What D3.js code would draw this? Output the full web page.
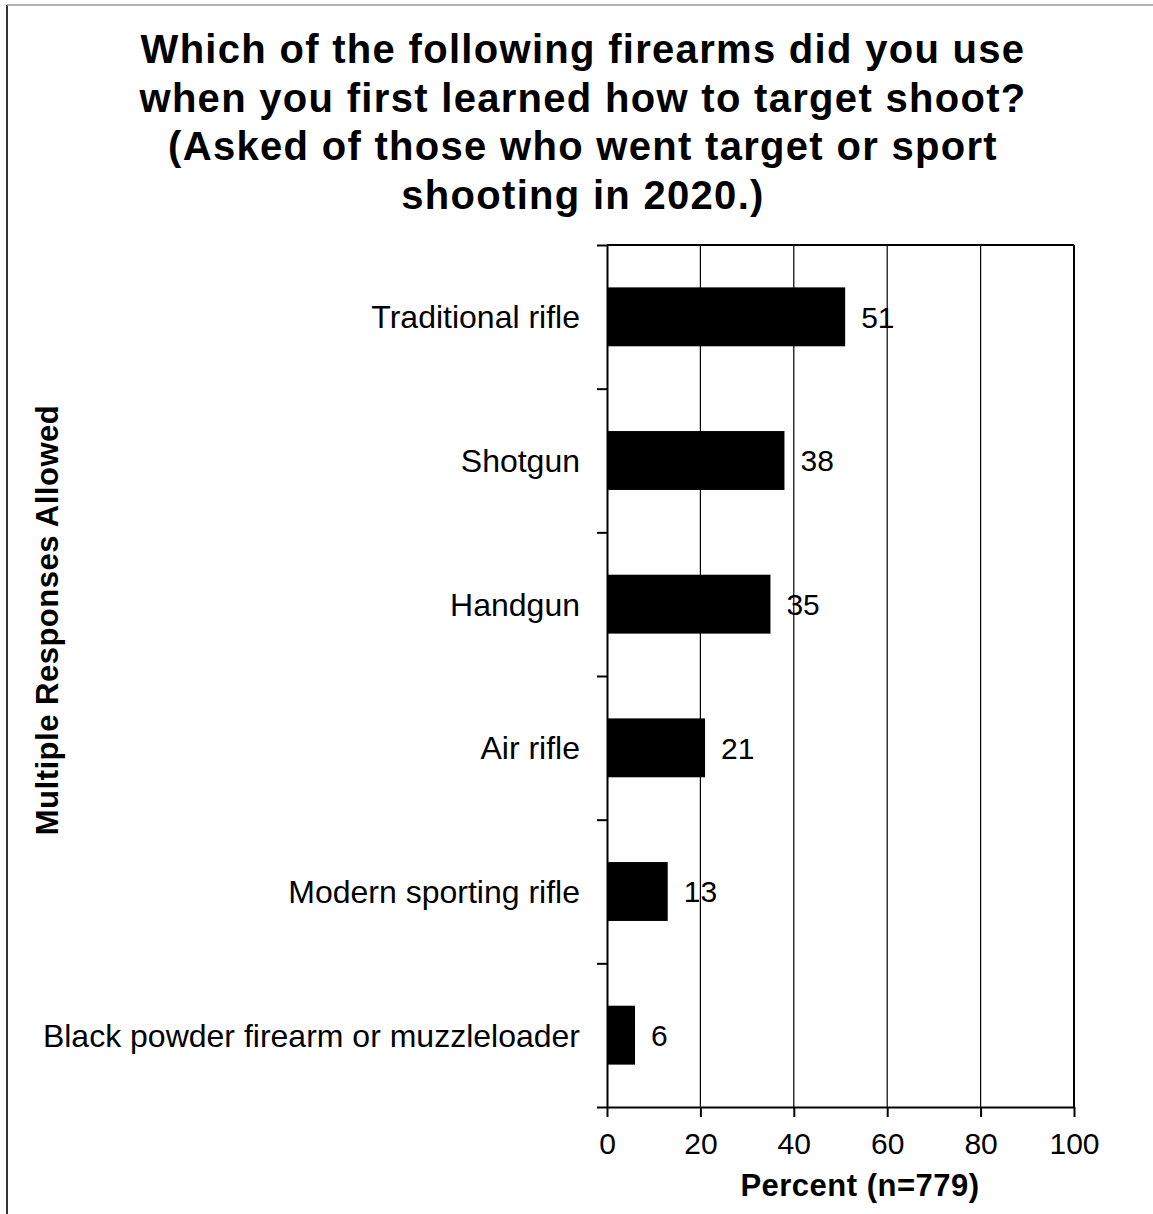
<!DOCTYPE html>
<html lang="en">
<head>
<meta charset="UTF-8"/>
<title>First firearm used for target shooting</title>
<script src="https://d3js.org/d3.v7.min.js"></script>
<style>
	body { margin: 0; background: #fff; }
	svg { font-family: "Liberation Sans", Arial, sans-serif; }
	.title { font-size: 40px; font-weight: bold; letter-spacing: 1.3px; }
	.cat { font-size: 32px; }
	.val { font-size: 30px; }
	.axis text { font-size: 30px; font-family: "Liberation Sans", Arial, sans-serif; fill: #000; }
	.axis path, .axis line { stroke: #000; stroke-width: 2px; }
	.grid { stroke: #000; stroke-width: 1.2px; }
	.axTitle { font-size: 31px; font-weight: bold; letter-spacing: 0.5px; }
</style>
</head>
<body>
<div id="chart"></div>
<script>
	var w = 1153, h = 1214;
	var mLeft = 607, mRight = 1074, mTop = 245, mBottom = 1107;

	var titleLines = [
		"Which of the following firearms did you use",
		"when you first learned how to target shoot?",
		"(Asked of those who went target or sport",
		"shooting in 2020.)"
	];
	var categories = ["Traditional rifle", "Shotgun", "Handgun", "Air rifle",
		"Modern sporting rifle", "Black powder firearm or muzzleloader"];
	var values = [51, 38, 35, 21, 13, 6];
	var xTicks = [0, 20, 40, 60, 80, 100];

	var svg = d3.select("#chart").append("svg")
		.attr("width", w).attr("height", h);

	// outer frame (left + top only, like the scan)
	svg.append("line").attr("x1", 7).attr("y1", 5).attr("x2", 7).attr("y2", h)
		.attr("stroke", "#333").attr("stroke-width", 2);
	svg.append("line").attr("x1", 7).attr("y1", 5).attr("x2", w).attr("y2", 5)
		.attr("stroke", "#999").attr("stroke-width", 1.5);

	svg.selectAll(".title").data(titleLines).enter().append("text")
		.attr("class", "title")
		.attr("x", 583)
		.attr("y", function(d, i) { return 63 + i * 48.5; })
		.attr("text-anchor", "middle")
		.text(function(d) { return d; });

	var x = d3.scaleLinear().domain([0, 100]).range([mLeft, mRight]);
	var y = d3.scaleBand().domain(categories).range([mTop, mBottom]).paddingInner(0.59).paddingOuter(0.295);

	// gridlines
	svg.selectAll(".grid").data(xTicks.slice(1, -1)).enter().append("line")
		.attr("class", "grid")
		.attr("x1", function(d) { return x(d); }).attr("x2", function(d) { return x(d); })
		.attr("y1", mTop).attr("y2", mBottom);

	// plot border top and right
	svg.append("line").attr("x1", mLeft).attr("x2", mRight).attr("y1", mTop).attr("y2", mTop)
		.attr("stroke", "#000").attr("stroke-width", 2);
	svg.append("line").attr("x1", mRight).attr("x2", mRight).attr("y1", mTop).attr("y2", mBottom)
		.attr("stroke", "#000").attr("stroke-width", 2);

	// bars
	svg.selectAll(".bar").data(values).enter().append("rect")
		.attr("class", "bar")
		.attr("x", x(0))
		.attr("y", function(d, i) { return y(categories[i]); })
		.attr("width", function(d) { return x(d) - x(0); })
		.attr("height", y.bandwidth())
		.attr("fill", "#000");

	svg.selectAll(".val").data(values).enter().append("text")
		.attr("class", "val")
		.attr("x", function(d) { return x(d) + 16; })
		.attr("y", function(d, i) { return y(categories[i]) + y.bandwidth() / 2; })
		.attr("dy", "0.36em")
		.text(function(d) { return d; });

	// category labels
	svg.selectAll(".cat").data(categories).enter().append("text")
		.attr("class", "cat")
		.attr("x", 580)
		.attr("y", function(d) { return y(d) + y.bandwidth() / 2; })
		.attr("dy", "0.36em")
		.attr("text-anchor", "end")
		.text(function(d) { return d; });

	// y axis: ticks at band boundaries
	var yEdges = d3.scaleLinear().domain([0, categories.length]).range([mTop, mBottom]);
	svg.append("g").attr("class", "axis")
		.attr("transform", "translate(" + mLeft + ",0)")
		.call(d3.axisLeft(yEdges).tickValues(d3.range(categories.length + 1)).tickSize(10).tickSizeOuter(0).tickFormat(""));

	// x axis
	svg.append("g").attr("class", "axis")
		.attr("transform", "translate(0," + mBottom + ")")
		.call(d3.axisBottom(x).tickValues(xTicks).tickSize(10).tickSizeOuter(0).tickPadding(16));

	svg.append("text").attr("class", "axTitle")
		.attr("x", 860).attr("y", 1196)
		.attr("text-anchor", "middle")
		.text("Percent (n=779)");

	svg.append("text").attr("class", "axTitle")
		.attr("transform", "translate(58,620) rotate(-90)")
		.attr("text-anchor", "middle")
		.text("Multiple Responses Allowed");
</script>
</body>
</html>
